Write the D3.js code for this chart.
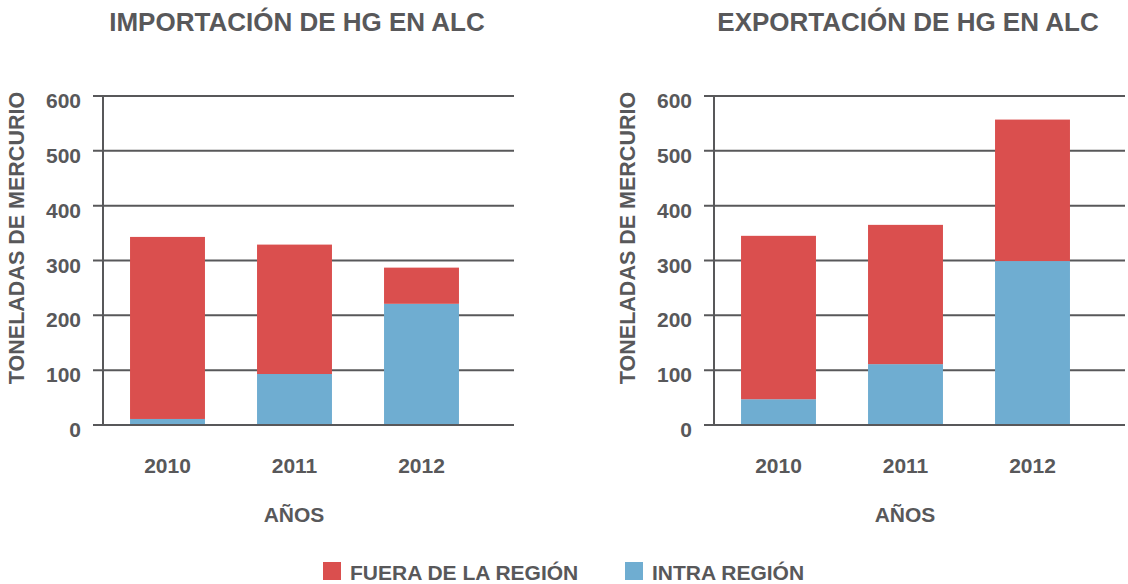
<!DOCTYPE html>
<html>
<head>
<meta charset="utf-8">
<script src="https://cdn.jsdelivr.net/npm/d3@7"></script>
<style>
  body { margin: 0; background: #fff; }
  svg text { font-family: "Liberation Sans", Arial, sans-serif; font-weight: bold; fill: #58585a; }
</style>
</head>
<body>
<svg id="chart" width="1128" height="584"></svg>
<script>
// data (toneladas de mercurio)
let years = ["2010", "2011", "2012"];
let importIntra = [11, 93, 221];
let importFuera = [332, 236, 66];
let exportIntra = [47, 111, 299];
let exportFuera = [298, 254, 258];
let yTicks = [0, 100, 200, 300, 400, 500, 600];
let series = ["FUERA DE LA REGIÓN", "INTRA REGIÓN"];
let colors = ["#da4f4e", "#6fadd1"];

let svg = d3.select("#chart");
let gray = "#58585a";

// draw one stacked bar panel
function drawPanel(offsetX, title, intra, fuera) {
  let g = svg.append("g").attr("transform", "translate(" + offsetX + ",0)");
  let y = d3.scaleLinear().domain([0, 600]).range([425, 96]);
  let x = d3.scaleBand().domain(years).range([104, 485]).paddingInner(0.41).paddingOuter(0.205);

  // gridlines
  g.selectAll(".grid")
    .data(yTicks)
    .enter()
    .append("line")
    .attr("x1", 93)
    .attr("x2", 514)
    .attr("y1", (d) => y(d))
    .attr("y2", (d) => y(d))
    .style("stroke", gray)
    .style("stroke-width", 2);

  // y axis line
  g.append("line")
    .attr("x1", 103).attr("x2", 103)
    .attr("y1", y(600)).attr("y2", y(0) + 1)
    .style("stroke", gray)
    .style("stroke-width", 2);

  // tick labels
  g.selectAll(".ylab")
    .data(yTicks)
    .enter()
    .append("text")
    .attr("x", 81)
    .attr("y", (d) => y(d) + 12)
    .attr("text-anchor", "end")
    .style("font-size", "21px")
    .text((d) => d);

  // stacked bars
  let rows = years.map((yr, i) => ({ year: yr, intra: intra[i], fuera: fuera[i] }));
  g.selectAll(".intra")
    .data(rows)
    .enter()
    .append("rect")
    .attr("x", (d) => x(d.year))
    .attr("width", x.bandwidth())
    .attr("y", (d) => y(d.intra))
    .attr("height", (d) => y(0) - y(d.intra) - 1)
    .style("fill", colors[1]);
  g.selectAll(".fuera")
    .data(rows)
    .enter()
    .append("rect")
    .attr("x", (d) => x(d.year))
    .attr("width", x.bandwidth())
    .attr("y", (d) => y(d.intra + d.fuera))
    .attr("height", (d) => y(d.intra) - y(d.intra + d.fuera))
    .style("fill", colors[0]);

  // year labels
  g.selectAll(".xlab")
    .data(years)
    .enter()
    .append("text")
    .attr("x", (d) => x(d) + x.bandwidth() / 2)
    .attr("y", 473)
    .attr("text-anchor", "middle")
    .style("font-size", "21px")
    .text((d) => d);

  g.append("text")
    .attr("x", 294)
    .attr("y", 522)
    .attr("text-anchor", "middle")
    .style("font-size", "21px")
    .text("AÑOS");

  g.append("text")
    .attr("transform", "translate(23.5,238) rotate(-90)")
    .attr("text-anchor", "middle")
    .style("font-size", "21.5px")
    .text("TONELADAS DE MERCURIO");

  g.append("text")
    .attr("x", 297)
    .attr("y", 31)
    .attr("text-anchor", "middle")
    .style("font-size", "26px")
    .text(title);
}

drawPanel(0, "IMPORTACIÓN DE HG EN ALC", importIntra, importFuera);
drawPanel(611, "EXPORTACIÓN DE HG EN ALC", exportIntra, exportFuera);

// legend
let legendX = [323, 625];
let legend = svg.selectAll(".legend")
  .data(series)
  .enter()
  .append("g")
  .attr("transform", (d, i) => "translate(" + legendX[i] + ",562)");
legend.append("rect")
  .attr("width", 18)
  .attr("height", 18)
  .style("fill", (d, i) => colors[i]);
legend.append("text")
  .attr("x", 27)
  .attr("y", 18)
  .style("font-size", "21px")
  .text((d) => d);
</script>
</body>
</html>
